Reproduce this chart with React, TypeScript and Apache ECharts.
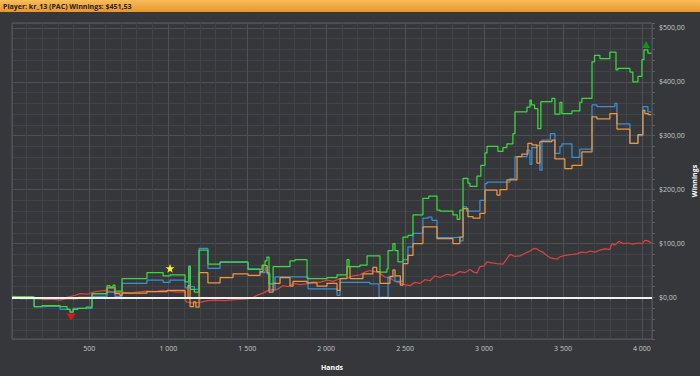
import React, { useEffect, useRef } from "react";
import * as echarts from "echarts";

const titleText = "Player: kr_13 (PAC) Winnings: $451,53";
const xName = "Hands";
const yName = "Winnings";

const xMin = 10;
const xMax = 4064;
const yMin = -77;
const yMax = 509;

// [hands, winnings] — value holds from this hand until next entry
const greenData: [number, number][] = [
  [11, 1], [150, -17], [200, -15], [314, -17], [359, -22], [378, -27], [397, -22], [428, -20], [480, -18],
  [517, 7], [612, 22], [630, 19], [650, 23], [662, 12], [707, 35], [865, 46], [967, 40], [1011, 42],
  [1106, 29], [1130, 58], [1140, 15], [1165, 10], [1195, 88], [1251, 62], [1328, 66], [1505, 52],
  [1594, 60], [1613, 68], [1625, 75], [1638, 25], [1664, 57], [1771, 68], [1803, 70], [1879, 35],
  [2005, 37], [2069, 42], [2132, 70], [2145, 57], [2214, 60], [2259, 77], [2341, 47], [2385, 53],
  [2392, 87], [2423, 100], [2436, 87], [2455, 66], [2487, 112], [2518, 115], [2550, 153], [2613, 184],
  [2650, 188], [2702, 162], [2721, 160], [2803, 153], [2830, 145], [2847, 162], [2867, 221], [2898, 212],
  [2911, 206], [2955, 225], [2980, 245], [3006, 268], [3019, 280], [3088, 271], [3120, 278], [3145, 285],
  [3183, 304], [3196, 344], [3272, 353], [3291, 366], [3300, 357], [3320, 350], [3341, 313], [3360, 363],
  [3430, 369], [3449, 340], [3481, 362], [3493, 341], [3557, 346], [3607, 362], [3620, 369], [3684, 437],
  [3700, 449], [3734, 443], [3797, 455], [3836, 422], [3848, 425], [3924, 418], [3943, 400], [3975, 410],
  [4000, 441], [4013, 459], [4038, 453], [4060, 452],
];

const blueData: [number, number][] = [
  [11, 1], [61, -2], [150, -17], [200, -16], [314, -22], [378, -27], [397, -20], [517, 2], [612, 10],
  [662, 2], [707, 26], [865, 32], [967, 28], [1011, 32], [1106, 18], [1130, 57], [1140, 20], [1165, 15],
  [1195, 91], [1251, 54], [1328, 65], [1505, 53], [1581, 46], [1613, 55], [1626, 44], [1644, 14],
  [1676, 38], [1885, 16], [2069, 4], [2088, 28], [2277, 25], [2335, 0], [2392, 38], [2436, 30],
  [2487, 70], [2518, 94], [2550, 119], [2613, 147], [2645, 149], [2670, 143], [2702, 111], [2816, 112],
  [2847, 105], [2867, 168], [2890, 160], [2974, 180], [3006, 211], [3019, 214], [3164, 220], [3196, 261],
  [3272, 273], [3291, 247], [3303, 278], [3335, 282], [3354, 236], [3367, 292], [3420, 304], [3449, 267],
  [3481, 280], [3493, 285], [3557, 260], [3607, 275], [3684, 357], [3715, 354], [3829, 360], [3842, 322],
  [3924, 286], [3975, 300], [4006, 354], [4038, 344], [4060, 344],
];

const orangeData: [number, number][] = [
  [11, 1], [144, -2], [428, 0], [517, 7], [612, 18], [662, 7], [694, 4], [707, 8], [865, 11], [992, 13],
  [1106, -1], [1125, 22], [1138, -17], [1160, -8], [1175, -18], [1195, 46], [1251, 27], [1328, 37],
  [1410, 44], [1505, 41], [1581, 48], [1600, 59], [1626, 46], [1638, 10], [1664, 26], [1708, 37],
  [1771, 21], [1790, 30], [1879, 27], [1942, 21], [2005, 26], [2069, 13], [2088, 35], [2132, 57],
  [2151, 35], [2233, 44], [2296, 56], [2320, 48], [2341, 26], [2404, 39], [2423, 51], [2436, 40],
  [2470, 23], [2487, 63], [2518, 78], [2550, 100], [2613, 131], [2702, 109], [2803, 100], [2847, 112],
  [2867, 165], [2898, 150], [2930, 147], [2974, 156], [3006, 199], [3082, 190], [3101, 200], [3145, 218],
  [3209, 261], [3240, 266], [3278, 286], [3303, 283], [3335, 249], [3354, 289], [3430, 292], [3449, 257],
  [3512, 239], [3557, 245], [3607, 245], [3620, 270], [3684, 335], [3715, 331], [3797, 341], [3842, 312],
  [3924, 286], [3975, 302], [4006, 347], [4019, 341], [4040, 339], [4060, 339],
];

const redData: [number, number][] = [
  [11, 2], [93, 1], [144, 0], [188, -2], [220, -4], [264, -3], [314, -5], [340, -3], [359, 0], [384, 2],
  [410, 4], [441, 7], [486, 6], [536, 11], [568, 12], [600, 13], [638, 11], [675, 9], [713, 10],
  [758, 8], [802, 10], [865, 12], [916, 11], [961, 13], [1011, 12], [1062, 10], [1106, 11], [1112, -8],
  [1150, -10], [1201, -9], [1251, -6], [1296, -5], [1359, -6], [1423, -4], [1486, -3], [1530, -1],
  [1569, 5], [1600, 8], [1644, 15], [1683, 14], [1727, 22], [1759, 20], [1790, 26], [1834, 24],
  [1879, 25], [1917, 29], [1961, 28], [2005, 32], [2043, 30], [2088, 35], [2132, 36], [2170, 40],
  [2214, 42], [2246, 47], [2277, 50], [2309, 48], [2341, 45], [2372, 38], [2404, 36], [2436, 30],
  [2467, 27], [2499, 24], [2531, 22], [2562, 28], [2594, 26], [2626, 33], [2658, 31], [2689, 40],
  [2721, 37], [2765, 43], [2803, 41], [2847, 48], [2879, 46], [2911, 52], [2936, 47], [2955, 45],
  [2974, 57], [2999, 58], [3019, 66], [3050, 64], [3082, 63], [3120, 62], [3145, 72], [3164, 80],
  [3196, 76], [3227, 77], [3259, 82], [3291, 86], [3316, 91], [3335, 90], [3354, 86], [3373, 84],
  [3398, 78], [3417, 74], [3443, 72], [3462, 71], [3481, 75], [3500, 77], [3532, 79], [3563, 80],
  [3589, 81], [3620, 84], [3646, 83], [3671, 86], [3703, 84], [3734, 88], [3766, 90], [3797, 89],
  [3810, 100], [3829, 97], [3854, 104], [3880, 100], [3911, 101], [3943, 99], [3975, 101], [4000, 100],
  [4019, 106], [4038, 105], [4060, 101],
];

const starPoint: [number, number] = [1011, 54];
const minPoint: [number, number] = [384, -36];
const maxPoint: [number, number] = [4027, 469];

const STAR =
  "path://M50,0 L61,35 L98,35 L68,57 L79,91 L50,70 L21,91 L32,57 L2,35 L39,35 Z";

const FONT = '"Open Sans", "Noto Sans", sans-serif';

function fmtHands(v: number): string {
  if (v >= 1000) {
    const th = Math.floor(v / 1000);
    const rest = String(v % 1000).padStart(3, "0");
    return th + " " + rest;
  }
  return String(v);
}

export default function App() {
  const ref = useRef<HTMLDivElement>(null);

  useEffect(() => {
    document.body.style.margin = "0";
    if (!ref.current) return;
    const chart = echarts.init(ref.current, null, { renderer: "svg" });
    const lineBase = (name: string, color: string, data: [number, number][], step: boolean) => ({
      name,
      type: "line",
      data,
      step: step ? "end" : false,
      showSymbol: false,
      symbol: "none",
      lineStyle: { color, width: 1.25 },
      itemStyle: { color },
      z: 3,
    });
    chart.setOption({
      animation: false,
      backgroundColor: "#35373b",
      grid: {
        left: 12,
        right: 48,
        top: 23,
        bottom: 37,
        show: true,
        borderColor: "#595d61",
        borderWidth: 1,
        backgroundColor: "#35373b",
        containLabel: false,
        outerBoundsMode: "none",
      },
      graphic: [
        {
          type: "rect",
          shape: { x: 0, y: 0, width: 700, height: 12 },
          style: {
            fill: new echarts.graphic.LinearGradient(0, 0, 0, 1, [
              { offset: 0, color: "#f8bd5a" },
              { offset: 1, color: "#e8952c" },
            ]),
          },
          z: 10,
        },
        {
          type: "text",
          x: 3,
          y: 6,
          style: {
            text: titleText,
            fill: "#222222",
            font: 'bold 7px "Open Sans", sans-serif',
            verticalAlign: "middle",
          },
          z: 11,
        },
        {
          type: "text",
          x: 694,
          y: 181,
          rotation: Math.PI / 2,
          style: {
            text: yName,
            fill: "#ffffff",
            font: 'bold 7px "Open Sans", sans-serif',
            align: "center",
            verticalAlign: "middle",
          },
          z: 11,
        },
      ],
      xAxis: {
        type: "value",
        min: xMin,
        max: xMax,
        splitNumber: 8,
        name: xName,
        nameLocation: "middle",
        nameGap: 25,
        nameTextStyle: { color: "#ffffff", fontWeight: "bold", fontSize: 7, fontFamily: FONT },
        axisLine: { show: false },
        axisTick: { show: true, length: 3, lineStyle: { color: "#595d61" } },
        minorTick: { show: true, splitNumber: 5, length: 3, lineStyle: { color: "#595d61" } },
        axisLabel: {
          color: "#c8c8c8",
          fontSize: 7,
          fontFamily: FONT,
          margin: 6,
          showMinLabel: false,
          showMaxLabel: false,
          formatter: (v: number) => fmtHands(v),
        },
        splitLine: { show: true, lineStyle: { color: "#4d5155", width: 1 } },
        minorSplitLine: { show: true, lineStyle: { color: "#404347", width: 1 } },
      },
      yAxis: {
        type: "value",
        position: "right",
        min: yMin,
        max: yMax,
        splitNumber: 5,
        axisLine: { show: false },
        axisTick: { show: true, length: 3, lineStyle: { color: "#595d61" } },
        minorTick: { show: true, splitNumber: 5, length: 3, lineStyle: { color: "#595d61" } },
        axisLabel: {
          color: "#c8c8c8",
          fontSize: 7,
          fontFamily: FONT,
          margin: 7,
          showMinLabel: false,
          showMaxLabel: false,
          formatter: (v: number) => "$" + v + ",00",
        },
        splitLine: { show: true, lineStyle: { color: "#4d5155", width: 1 } },
        minorSplitLine: { show: true, lineStyle: { color: "#404347", width: 1 } },
      },
      series: [
        lineBase("red", "#d9433f", redData, false),
        lineBase("blue", "#3b8fd6", blueData, true),
        lineBase("orange", "#ef973d", orangeData, true),
        {
          ...lineBase("green", "#3cd83c", greenData, true),
          markLine: {
            silent: true,
            symbol: ["none", "none"],
            label: { show: false },
            lineStyle: { color: "#f2f2f2", width: 2, type: "solid" },
            data: [{ yAxis: 0 }],
          },
        },
        {
          type: "scatter",
          z: 6,
          data: [
            { value: starPoint, symbol: STAR, symbolSize: 9, itemStyle: { color: "#ffee22", opacity: 1 } },
            { value: minPoint, symbol: "triangle", symbolRotate: 180, symbolSize: [9, 7], itemStyle: { color: "#ee1111", opacity: 1 } },
            { value: maxPoint, symbol: "triangle", symbolSize: [8, 7], itemStyle: { color: "#14901a", opacity: 1 } },
          ],
        },
      ],
    });
    return () => chart.dispose();
  }, []);

  return <div ref={ref} style={{ width: 700, height: 376 }} />;
}
